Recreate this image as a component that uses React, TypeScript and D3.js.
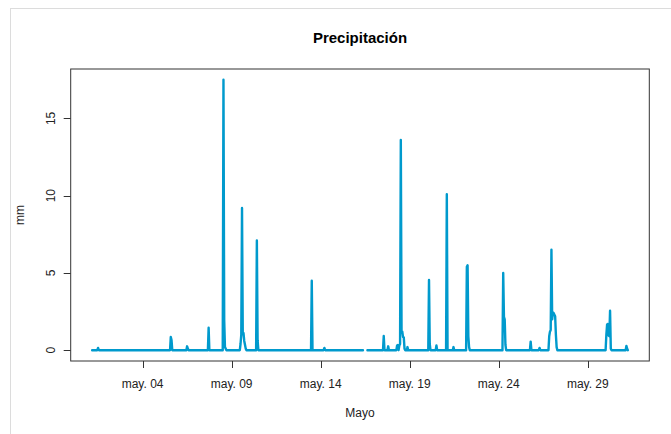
import React from "react";
import * as d3 from "d3";

// ---- data ----
const title = "Precipitación";
const xLabel = "Mayo";
const yLabel = "mm";
const startYear = 2023;
const startMonth = 4; // May (0-based)
const startDay = 1;
const startHour = 4;
const nHours = 722; // hourly readings from start

// hours (since start) with non-zero rain, and their values in mm
const rainHours = [
  8, 106, 107, 128, 129, 157, 177, 178, 179, 180,
  200, 201, 202, 203, 204, 205, 206, 207, 222, 223,
  296, 313, 393, 399, 411, 412, 414, 415, 416, 417,
  418, 419, 420, 421, 425, 454, 455, 464, 478, 487,
  505, 506, 507, 508, 554, 555, 556, 557, 591, 603,
  616, 617, 618, 619, 620, 621, 622, 623, 624, 625,
  626, 693, 694, 695, 696, 697, 698, 699, 720, 721,
];
const rainValues = [
  0.15, 0.85, 0.65, 0.25, 0.1, 1.45, 17.5, 1.95, 0.2, 0.1,
  0.4, 1.0, 9.2, 1.15, 1.1, 0.6, 0.35, 0.1, 7.1, 0.65,
  4.5, 0.15, 0.92, 0.25, 0.3, 0.33, 0.3, 0.4, 13.6, 1.25,
  1.2, 0.85, 0.83, 0.1, 0.2, 4.55, 0.4, 0.3, 10.1, 0.2,
  5.4, 5.5, 0.9, 0.2, 5.0, 2.15, 2.0, 0.35, 0.55, 0.15,
  0.9, 1.2, 1.3, 6.5, 2.0, 2.45, 2.4, 2.3, 2.2, 1.0,
  0.2, 1.0, 1.65, 1.7, 0.95, 0.9, 2.55, 0.1, 0.28, 0.1,
];
const missingHours = [366, 367, 368, 369, 370];

const xTickDays = [4, 9, 14, 19, 24, 29];
const xTickLabels = ["may. 04", "may. 09", "may. 14", "may. 19", "may. 24", "may. 29"];
const yTicks = [0, 5, 10, 15];

// ---- layout ----
const W = 671;
const H = 434;
const plotL = 70.7;
const plotR = 649.3;
const plotT = 69;
const plotB = 361;
const lineColor = "#009ACD";
const font = "'Liberation Sans', Arial, Helvetica, sans-serif";

type Pt = { t: Date; v: number | null };

export default function App() {
  const start = new Date(startYear, startMonth, startDay, startHour);
  const rainMap = new Map<number, number>();
  rainHours.forEach((h, i) => rainMap.set(h, rainValues[i]));
  const missing = new Set(missingHours);

  const data: Pt[] = d3.range(nHours + 1).map((h) => ({
    t: new Date(start.getTime() + h * 3600 * 1000),
    v: missing.has(h) ? null : rainMap.get(h) ?? 0,
  }));

  const t0 = data[0].t.getTime();
  const t1 = data[data.length - 1].t.getTime();
  const span = t1 - t0;
  const x = d3
    .scaleTime()
    .domain([new Date(t0 - 0.04 * span), new Date(t1 + 0.04 * span)])
    .range([plotL, plotR]);

  const vmax = d3.max(rainValues) as number;
  const vmin = 0;
  const vspan = vmax - vmin;
  const y = d3
    .scaleLinear()
    .domain([vmin - 0.04 * vspan, vmax + 0.04 * vspan])
    .range([plotB, plotT]);

  const line = d3
    .line<Pt>()
    .defined((d) => d.v !== null)
    .x((d) => x(d.t))
    .y((d) => y(d.v as number));

  const xTicks = xTickDays.map((d) => new Date(startYear, startMonth, d));

  return (
    <svg
      width={W}
      height={H}
      style={{ position: "absolute", left: 0, top: 0, background: "#fff" }}
    >
      <rect x={0} y={0} width={W} height={H} fill="#fff" />
      {/* outer light frame */}
      <line x1={10} x2={W} y1={8.5} y2={8.5} stroke="#dcdcdc" strokeWidth={1} />
      <line x1={10.5} x2={10.5} y1={8} y2={H} stroke="#dcdcdc" strokeWidth={1} />

      {/* data line */}
      <path
        d={line(data) || ""}
        fill="none"
        stroke={lineColor}
        strokeWidth={2.4}
        strokeLinejoin="round"
        strokeLinecap="round"
      />

      {/* plot box */}
      <rect
        x={plotL}
        y={plotT}
        width={plotR - plotL}
        height={plotB - plotT}
        fill="none"
        stroke="#333"
        strokeWidth={1}
      />

      {/* x axis */}
      {xTicks.map((t, i) => (
        <g key={i}>
          <line x1={Math.round(x(t)) + 0.5} x2={Math.round(x(t)) + 0.5} y1={plotB} y2={plotB + 7} stroke="#333" />
          <text
            x={x(t)}
            y={387.5}
            textAnchor="middle"
            fontFamily={font}
            fontSize={12}
            fill="#222"
          >
            {xTickLabels[i]}
          </text>
        </g>
      ))}

      {/* y axis */}
      {yTicks.map((v) => (
        <g key={v}>
          <line x1={plotL - 7} x2={plotL} y1={Math.round(y(v)) + 0.5} y2={Math.round(y(v)) + 0.5} stroke="#333" />
          <text
            transform={`translate(54.5,${y(v)}) rotate(-90)`}
            textAnchor="middle"
            fontFamily={font}
            fontSize={12}
            fill="#222"
          >
            {v}
          </text>
        </g>
      ))}

      {/* labels */}
      <text
        x={(plotL + plotR) / 2}
        y={43}
        textAnchor="middle"
        fontFamily={font}
        fontSize={15}
        fontWeight="bold"
        fill="#000"
      >
        {title}
      </text>
      <text
        x={(plotL + plotR) / 2}
        y={417}
        textAnchor="middle"
        fontFamily={font}
        fontSize={12}
        fill="#222"
      >
        {xLabel}
      </text>
      <text
        transform={`translate(24,${(plotT + plotB) / 2}) rotate(-90)`}
        textAnchor="middle"
        fontFamily={font}
        fontSize={12}
        fill="#222"
      >
        {yLabel}
      </text>
    </svg>
  );
}
